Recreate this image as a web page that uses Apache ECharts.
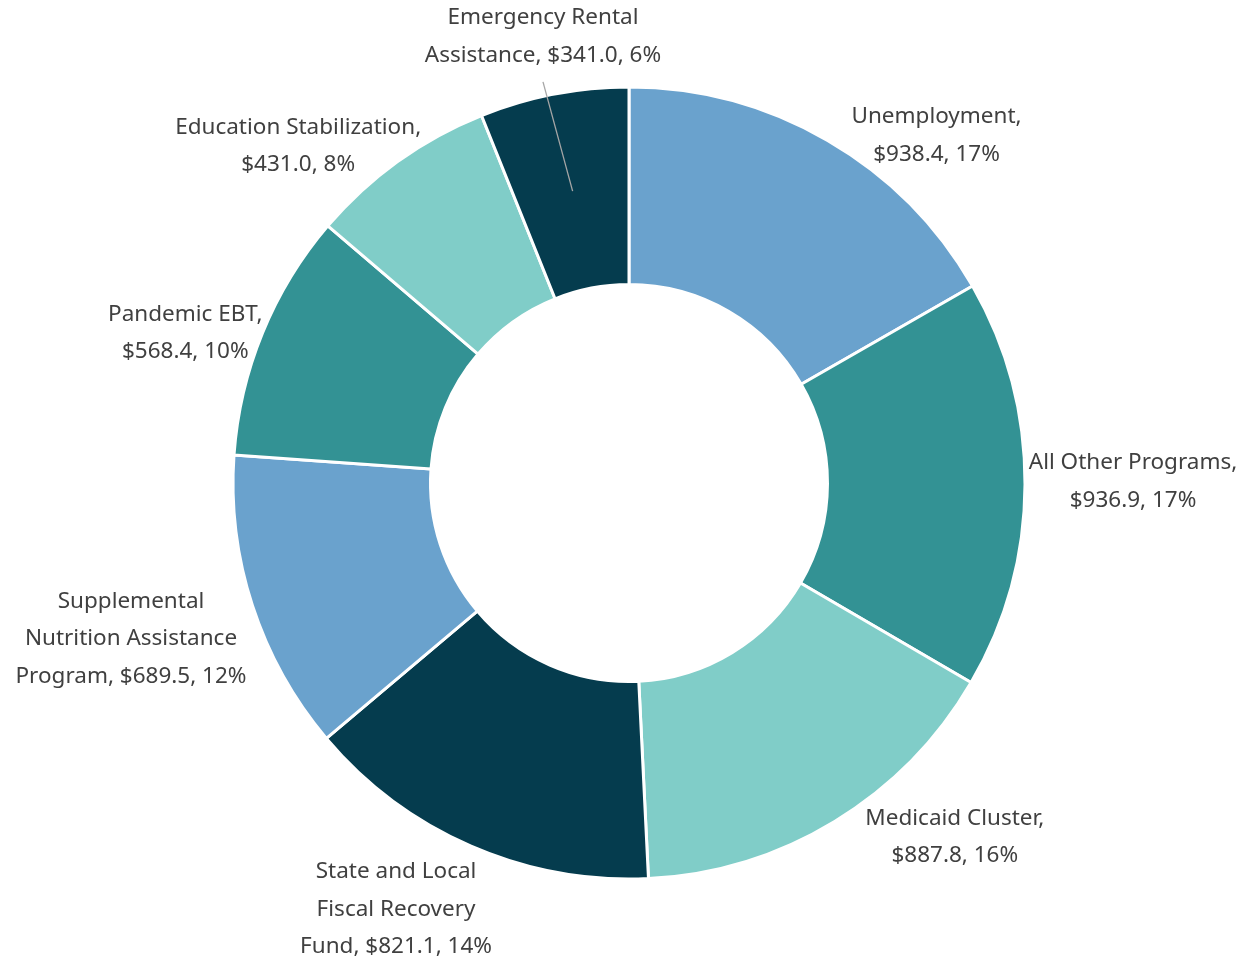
<!DOCTYPE html>
<html>
<head>
<meta charset="utf-8">
<title>Program spending</title>
<script src="https://cdn.jsdelivr.net/npm/echarts@6/dist/echarts.min.js"></script>
<style>
  html, body { margin: 0; padding: 0; background: #fff; }
  #main { width: 1250px; height: 957px; }
</style>
</head>
<body>
<div id="main"></div>
<script>
// data ($ millions), clockwise from 12 o'clock
var programs = [
  'Unemployment',
  'All Other Programs',
  'Medicaid Cluster',
  'State and Local\nFiscal Recovery\nFund',
  'Supplemental\nNutrition Assistance\nProgram',
  'Pandemic EBT',
  'Education Stabilization',
  'Emergency Rental\nAssistance'
];
var amounts = [938.4, 936.9, 887.8, 821.1, 689.5, 568.4, 431.0, 341.0];
var shares = [17, 17, 16, 14, 12, 10, 8, 6]; // printed percentages

// layout
var CX = 629, CY = 483, R_OUT = 396, R_IN = 198.5, LINE_LEN = 10;
// nudges for each label, from the default outside anchor to the label centre
var labelShift = [[104, 4], [98, -3], [115, 7], [-71, 54], [-112, 30], [-68, 4], [-94, -7], [-9, -48]];
var LEADER_INDEX = 7;
var leaderPts = null;

var myChart = echarts.init(document.getElementById('main'), null, { renderer: 'canvas' });

var option = {
  animation: false,
  backgroundColor: '#ffffff',
  color: ['#6aa2cd', '#339294', '#80cdc8', '#053c4e'],
  series: [{
    type: 'pie',
    center: [CX, CY],
    radius: [R_IN, R_OUT],
    startAngle: 90,
    clockwise: true,
    avoidLabelOverlap: false,
    silent: true,
    itemStyle: { borderColor: '#ffffff', borderWidth: 3 },
    label: {
      show: true,
      position: 'outside',
      distanceToLabelLine: 0,
      fontFamily: 'Noto Sans',
      fontSize: 22.5,
      lineHeight: 37.5,
      color: '#404040',
      formatter: function (p) {
        var sep = p.name.indexOf('\n') < 0 ? ',\n' : ', ';
        return p.name + sep + '$' + p.value.toFixed(1) + ', ' + shares[p.dataIndex] + '%';
      }
    },
    labelLine: { show: false, length: LINE_LEN, length2: 0 },
    labelLayout: function (p) {
      var r = p.labelRect;
      var onLeft = r.x + r.width / 2 < CX;
      // default anchor sits on the mid-angle ray, LINE_LEN outside the ring
      var ax = onLeft ? r.x + r.width : r.x;
      var ay = r.y + r.height / 2;
      var s = labelShift[p.dataIndex];
      var out = { x: ax + s[0], y: ay + s[1], align: 'center', verticalAlign: 'middle' };
      if (p.dataIndex === LEADER_INDEX) {
        // leader from the middle of the slice up to the label
        var k = (R_OUT + R_IN) / 2 / (R_OUT + LINE_LEN);
        leaderPts = [CX + (ax - CX) * k, CY + (ay - CY) * k, out.x, out.y + r.height / 2 + 8];
      }
      return out;
    },
    emphasis: { disabled: true },
    data: amounts.map(function (v, i) {
      return { value: v, name: programs[i] };
    })
  }]
};

myChart.setOption(option);

if (leaderPts) {
  myChart.setOption({
    graphic: [{
      type: 'line',
      silent: true,
      z: 100,
      shape: { x1: leaderPts[0], y1: leaderPts[1], x2: leaderPts[2], y2: leaderPts[3] },
      style: { stroke: '#a6a6a6', lineWidth: 1.3 }
    }]
  });
}

window.addEventListener('resize', function () {
  myChart.resize();
});
</script>
</body>
</html>
